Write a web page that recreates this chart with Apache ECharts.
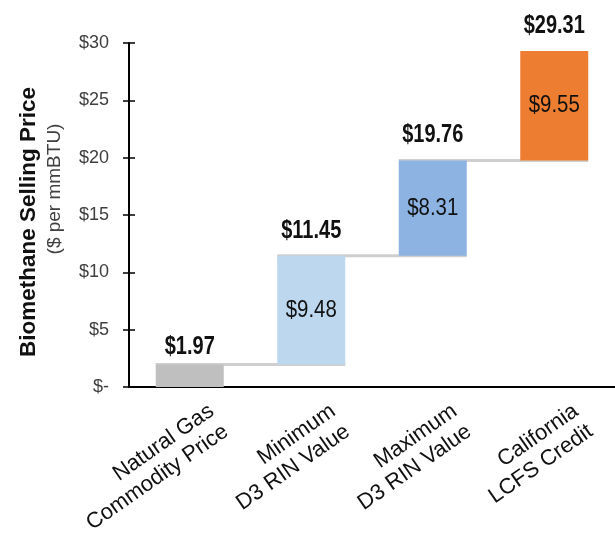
<!DOCTYPE html>
<html>
<head>
<meta charset="utf-8">
<script src="https://cdn.jsdelivr.net/npm/echarts@6/dist/echarts.min.js"></script>
<style>
  html, body { margin: 0; padding: 0; background: #fff; }
  #chart { width: 615px; height: 540px; }
</style>
</head>
<body>
<div id="chart"></div>
<script>
// data
const categories = ['Natural Gas\nCommodity Price', 'Minimum\nD3 RIN Value', 'Maximum\nD3 RIN Value', 'California\nLCFS Credit']
const increments = [1.97, 9.48, 8.31, 9.55]
const totals = [1.97, 11.45, 19.76, 29.31]
const yTicks = [0, 5, 10, 15, 20, 25, 30]

const barColors = ['#bfbfbf', '#bdd7ee', '#8db3e2', '#ed7d31']
const BAR_W = 68
const FONT = 'Liberation Sans, Arial, sans-serif'

// each bar starts where the previous total ended
const bases = totals.map((t, i) => (i === 0 ? 0 : totals[i - 1]))

const chart = echarts.init(document.getElementById('chart'))

// value labels: the source text is a bit condensed, so squeeze it horizontally
function renderLabels(params, api) {
  const i = api.value(0)
  const base = api.value(1)
  const total = api.value(2)
  const inc = api.value(3)
  const top = api.coord([i, total])
  const mid = api.coord([i, (base + total) / 2])
  const children = [{
    type: 'text',
    x: top[0],
    y: top[1] - (i === 0 ? 17 : 25),
    scaleX: 0.8,
    style: {
      text: '$' + total.toFixed(2),
      font: 'bold 25px ' + FONT,
      fill: '#111',
      align: 'center',
      verticalAlign: 'middle'
    }
  }]
  if (i > 0) {
    children.push({
      type: 'text',
      x: mid[0],
      y: mid[1],
      scaleX: 0.85,
      style: {
        text: '$' + inc.toFixed(2),
        font: '24px ' + FONT,
        fill: '#111',
        align: 'center',
        verticalAlign: 'middle'
      }
    })
  }
  return { type: 'group', children }
}

const option = {
  animation: false,
  grid: { left: 129, top: 43, width: 490, height: 344 },
  xAxis: {
    type: 'category',
    data: categories,
    axisLine: { lineStyle: { color: '#000', width: 2 } },
    axisTick: { length: 7, lineStyle: { color: '#000', width: 1.5 } },
    axisLabel: {
      rotate: 35,
      margin: 22,
      verticalAlign: 'top',
      padding: [0, -18, 0, 0],
      color: '#111',
      fontFamily: FONT,
      fontSize: 22,
      lineHeight: 25,
      interval: 0
    }
  },
  yAxis: [
    {
      type: 'value',
      min: yTicks[0],
      max: yTicks[yTicks.length - 1],
      interval: 5,
      splitLine: { show: false },
      axisLine: { show: true, lineStyle: { color: '#000', width: 2 } },
      axisTick: { show: true, length: 6, lineStyle: { color: '#000', width: 1.5 } },
      axisLabel: {
        margin: 20,
        color: '#404040',
        fontFamily: FONT,
        fontSize: 18,
        formatter: v => (v === 0 ? '$-' : '$' + v)
      }
    },
    {
      // inner half of the crossing ticks
      type: 'value',
      position: 'left',
      min: yTicks[0],
      max: yTicks[yTicks.length - 1],
      interval: 5,
      splitLine: { show: false },
      axisLine: { show: false },
      axisTick: { show: true, inside: true, length: 6, lineStyle: { color: '#000', width: 1.5 } },
      axisLabel: { show: false }
    }
  ],
  graphic: [
    {
      type: 'text',
      x: 29, y: 222, rotation: Math.PI / 2,
      style: {
        text: 'Biomethane Selling Price',
        fontFamily: FONT, fontWeight: 'bold', fontSize: 22.5, fill: '#111',
        align: 'center', verticalAlign: 'middle'
      }
    },
    {
      type: 'text',
      x: 55, y: 189, rotation: Math.PI / 2,
      style: {
        text: '($ per mmBTU)',
        fontFamily: FONT, fontSize: 19, fill: '#404040',
        align: 'center', verticalAlign: 'middle'
      }
    }
  ],
  series: [
    {
      // connectors between bars, drawn under them
      type: 'custom',
      z: 1,
      data: totals.slice(0, -1).map((t, i) => [i, t]),
      renderItem: (params, api) => {
        const i = api.value(0)
        const v = api.value(1)
        const p0 = api.coord([i, v])
        const p1 = api.coord([i + 1, v])
        return {
          type: 'line',
          shape: { x1: p0[0] - BAR_W / 2, y1: p0[1], x2: p1[0] + BAR_W / 2, y2: p1[1] },
          style: { stroke: '#cfcfcf', lineWidth: 3 }
        }
      }
    },
    {
      type: 'bar',
      stack: 'w',
      barWidth: BAR_W,
      z: 2,
      itemStyle: { color: 'transparent' },
      data: bases,
      silent: true
    },
    {
      type: 'bar',
      stack: 'w',
      barWidth: BAR_W,
      z: 3,
      data: increments.map((v, i) => ({ value: v, itemStyle: { color: barColors[i] } }))
    },
    {
      type: 'custom',
      z: 4,
      data: totals.map((t, i) => [i, bases[i], t, increments[i]]),
      encode: { x: 0, y: 2 },
      renderItem: renderLabels
    }
  ]
}

chart.setOption(option)
</script>
</body>
</html>
